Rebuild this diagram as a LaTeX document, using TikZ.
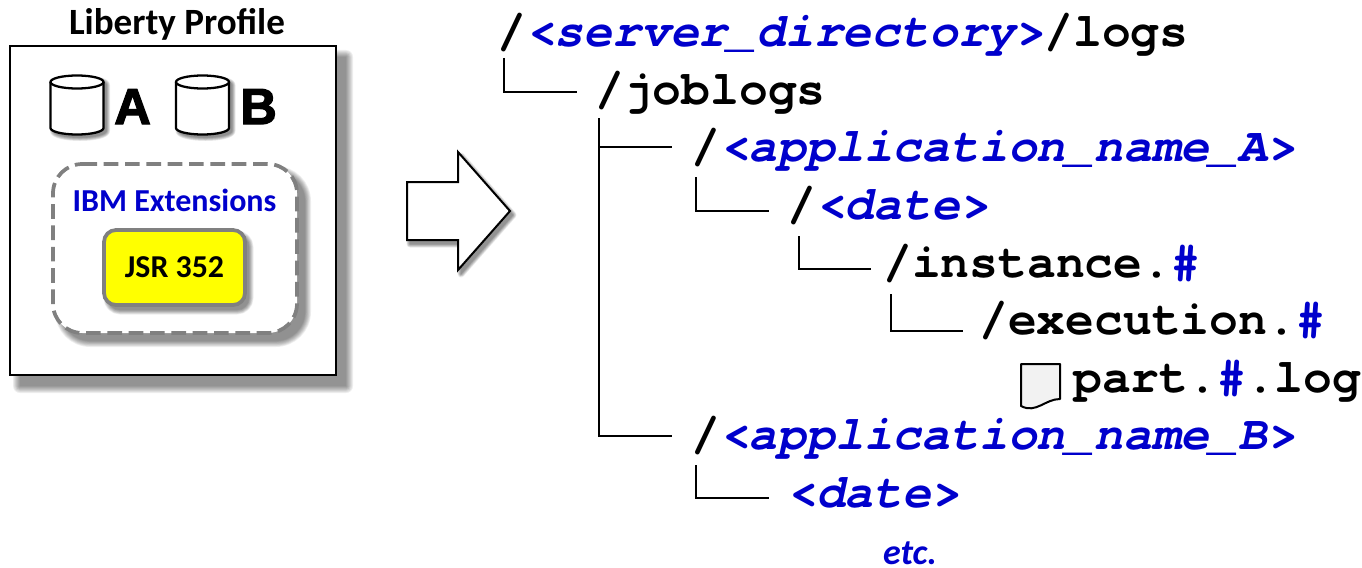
\documentclass[tikz,border=0pt]{standalone}
\usepackage{fontspec}
\setmainfont{Carlito}
\newfontfamily\cour{TeX Gyre Cursor}
\newfontfamily\bigf[FakeBold=2.5]{Liberation Sans}
\definecolor{cblue}{HTML}{0000CC}
\definecolor{pureyellow}{RGB}{255,255,0}
\newcommand{\V}[1]{{\color{cblue}\itshape #1}}
\newcommand{\softshadow}[4]{%
  \foreach \w in {1,.86,.72,.58,.44,.3,.16,.02}{%
    \begin{scope}[transparency group,opacity=.065]
    \draw[black,fill=black,line width=\w*#3*.75pt,line join=round,shift={(#1,#2)}] #4;
    \end{scope}}}
\tikzset{
  x=.75pt,y=-.75pt,
  pathtext/.style={anchor=base west,inner sep=0pt,font=\cour\fontsize{36}{36}\selectfont\bfseries},
  sanslabel/.style={inner sep=0pt,font=\bfseries\fontsize{24}{26}\selectfont},
  biglabel/.style={inner sep=0pt,anchor=base west,font=\bigf\bfseries\fontsize{38}{38}\selectfont},
  tree/.style={draw=black,line width=1.8pt},
  cyl/.style={draw=black,line width=1.7pt,fill=white},
}
\newcommand{\extpath}{[rounded corners=22pt] (53,164) -- (297,164) -- (297,333) -- (53,333) -- cycle}
\newcommand{\jsrpath}{[rounded corners=9pt] (104,230) -- (245,230) -- (245,305) -- (104,305) -- cycle}
\newcommand{\arrowpath}{(407,182) -- (458,182) -- (458,152) -- (510,211) -- (458,270) -- (458,240) -- (407,240) -- cycle}
\newcommand{\cylpath}{(0,82) -- (0,128) arc[start angle=180,end angle=0,x radius=26.5,y radius=6.5] -- (53,82) arc[start angle=0,end angle=-180,x radius=26.5,y radius=6.5] -- cycle}
\begin{document}
\begin{tikzpicture}
\useasboundingbox (0,0) rectangle (1362,567);
% outer box
\softshadow{10}{11}{14}{(10,46) rectangle (336,375)}
\draw[black,fill=white,line width=1.7pt] (10,46) rectangle (336,375);
\node[sanslabel,font=\bfseries\fontsize{27.8}{30}\selectfont] (title) at (177,24) {Liberty Profile};
% cylinders
\foreach \xx in {50.5,176}{
  \softshadow{\xx+3}{3}{7}{\cylpath}
  \begin{scope}[shift={(\xx,0)}]
  \draw[cyl] (0,82) -- (0,128) arc[start angle=180,end angle=0,x radius=26.5,y radius=6.5] -- (53,82);
  \draw[cyl] (26.5,82) ellipse[x radius=26.5,y radius=6.5];
  \end{scope}
}
\node[biglabel] (lblA) at (114,124) {A};
\node[biglabel] (lblB) at (240,124) {B};
% extensions
\softshadow{8}{8}{12}{\extpath}
\draw[draw=black!50,fill=white,line width=2.8pt,dash pattern=on 11pt off 5pt] \extpath;
\node[sanslabel,text=cblue] (ibm) at (174.5,200) {IBM Extensions};
\softshadow{4}{5}{9}{\jsrpath}
\node[draw=black!50,fill=pureyellow,line width=2.8pt,rounded corners=9pt,minimum width=105.75pt,minimum height=56.25pt,inner sep=0pt,font=\bfseries\fontsize{23.9}{26}\selectfont] (jsr) at (174.5,267.5) {JSR 352};
% block arrow
\softshadow{3}{4}{7}{\arrowpath}
\draw[black,fill=white,line width=1.5pt,line join=miter] \arrowpath;
% tree text
\node[pathtext] (root) at (497,46) {/\V{<server\_directory>}/logs};
\node[pathtext] (joblogs) at (595,104) {/joblogs};
\node[pathtext] (appa) at (691,161) {/\V{<application\_name\_A>}};
\node[pathtext] (datea) at (787,219) {/\V{<date>}};
\node[pathtext] (inst) at (883,277) {/instance.{\color{cblue}\#}};
\node[pathtext] (exec) at (979,334) {/execution.{\color{cblue}\#}};
\node[pathtext] (part) at (1073,392) {part.{\color{cblue}\#}.log};
\node[pathtext] (appb) at (691,449) {/\V{<application\_name\_B>}};
\node[pathtext] (dateb) at (787,507) {\V{<date>}};
\node[inner sep=0pt,anchor=base,text=cblue,font=\bfseries\itshape\fontsize{27}{28}\selectfont] (etc) at (910,564) {etc.};
% doc icon
\draw[black,fill=black!5,line width=1.5pt,line join=round] (1021,364) -- (1060,364) -- (1060,399) .. controls (1045,399) and (1036,414) .. (1021,406) -- cycle;
% connectors
\coordinate (t1) at ([shift={(7,12)}]root.base west);
\coordinate (e1) at ([shift={(-18,-12)}]joblogs.base west);
\draw[tree] (t1) |- (e1);
\coordinate (t2) at ([shift={(4,14)}]joblogs.base west);
\coordinate (e2) at ([shift={(-19,-14)}]appa.base west);
\coordinate (e3) at ([shift={(-19,-13)}]appb.base west);
\draw[tree] (t2) |- (e3);
\draw[tree] (t2 |- e2) -- (e2);
\coordinate (t3) at ([shift={(5,16)}]appa.base west);
\coordinate (e4) at ([shift={(-18,-8)}]datea.base west);
\draw[tree] (t3) |- (e4);
\coordinate (t4) at ([shift={(12,17)}]datea.base west);
\coordinate (e5) at ([shift={(-12,-8)}]inst.base west);
\draw[tree] (t4) |- (e5);
\coordinate (t5) at ([shift={(8,17)}]inst.base west);
\coordinate (e6) at ([shift={(-16,-3)}]exec.base west);
\draw[tree] (t5) |- (e6);
\coordinate (t6) at ([shift={(5,16)}]appb.base west);
\coordinate (e7) at ([shift={(-18,-9)}]dateb.base west);
\draw[tree] (t6) |- (e7);
\end{tikzpicture}
\end{document}
